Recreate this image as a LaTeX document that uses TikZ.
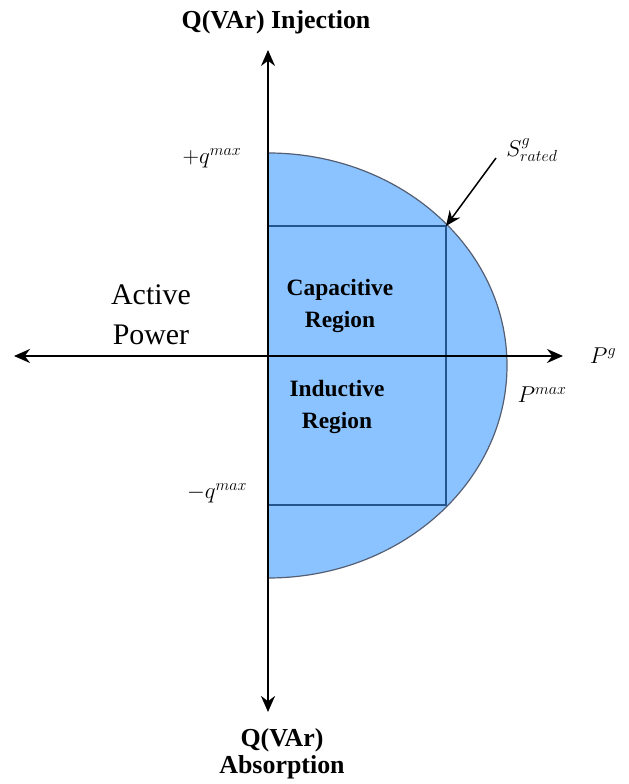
\RequirePackage{fix-cm}
\documentclass[tikz,border=0pt]{standalone}
\usepackage{fontspec}
\setmainfont{Liberation Serif}
\usetikzlibrary{arrows.meta}
\definecolor{regfill}{RGB}{138,195,255}
\definecolor{regedge}{RGB}{85,95,115}
\definecolor{rectline}{RGB}{35,85,140}
\tikzset{
  axisline/.style={line width=2bp, -{Stealth[length=16bp,width=14bp]}},
  boldlab/.style={font=\fontsize{26}{28}\selectfont\bfseries, align=center, inner sep=0pt},
  reglab/.style={font=\fontsize{23.5}{32}\selectfont\bfseries, align=center, inner sep=0pt},
  mathlab/.style={font=\fontsize{23}{26}\selectfont, inner sep=0pt},
  bigplain/.style={font=\fontsize{30}{40}\selectfont, align=center, inner sep=0pt}
}
\begin{document}
\begin{tikzpicture}[x=1bp,y=1bp]
\useasboundingbox (0,0) rectangle (629,784);
% region
\coordinate (top) at (268,631);
\coordinate (bot) at (268,206);
\fill[regfill] (top) arc[start angle=90,end angle=-90,x radius=239,y radius=212.5] -- cycle;
\draw[regedge, line width=1.2bp] (top) arc[start angle=90,end angle=-90,x radius=239,y radius=212.5];
% rectangle
\coordinate (rtl) at (268,558);
\coordinate (rtr) at (446,558);
\coordinate (rbr) at (446,279);
\coordinate (rbl) at (268,279);
\draw[rectline, line width=1.3bp] (rtl) -- (rtr) -- (rbr) -- (rbl);
% axes
\coordinate (vc) at (268,428);
\coordinate (vtop) at (268,734);
\coordinate (vbot) at (268,72);
\coordinate (hleft) at (14,428);
\coordinate (hright) at (563,428);
\draw[axisline] (vc) -- (vtop);
\draw[axisline] (vc) -- (vbot);
\draw[axisline] (vc) -- (hleft);
\draw[axisline] (vc) -- (hright);
% labels
\node[boldlab] (inj) at (276,762) {Q(VAr) Injection};
\node[boldlab] (abs) at (282,30) {Q(VAr)\\[-1pt]Absorption};
\node[bigplain] (act) at (151,469) {Active\\Power};
\node[reglab] (cap) at (340,478) {Capacitive\\Region};
\node[reglab] (ind) at (337,377) {Inductive\\Region};
\node[mathlab] (qp) at (212,626) {$+q^{max}$};
\node[mathlab] (qm) at (217,291) {$-q^{max}$};
\node[mathlab] (pmax) at (542,389) {$P^{max}$};
\node[mathlab] (pg) at (603,428) {$P^{g}$};
\node[mathlab] (srated) at (532,634) {$S^{g}_{rated}$};
\coordinate (sstart) at (496,626);
\draw[line width=1.5bp, -{Stealth[length=15bp,width=13bp]}] (sstart) -- (rtr);
\end{tikzpicture}
\end{document}
